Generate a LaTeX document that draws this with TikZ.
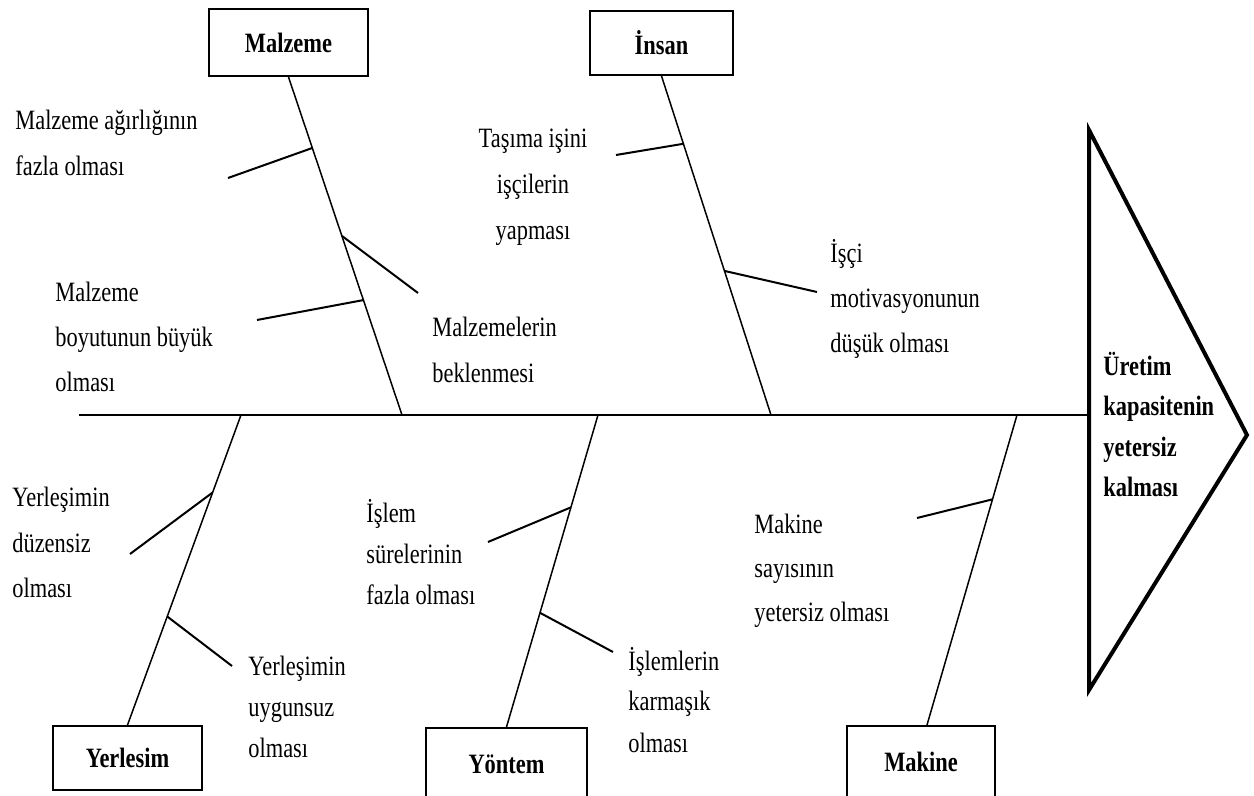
\documentclass[tikz,border=0pt]{standalone}
\usepackage{fontspec}
\setmainfont{Liberation Serif}[FakeStretch=0.8]
\usetikzlibrary{calc}

\begin{document}
\begin{tikzpicture}[
    x=0.5pt, y=-0.5pt,
    cat/.style={draw, line width=1pt, inner sep=0pt, font=\fontsize{14}{17}\selectfont\bfseries},
    lbl/.style={anchor=base west, inner sep=0pt, align=left, font=\fontsize{14}{23}\selectfont},
    lbltight/.style={lbl, font=\fontsize{14}{20.5}\selectfont},
    bone/.style={line width=0.75pt},
    twig/.style={line width=1pt},
    spine/.style={line width=1.2pt}
]
\useasboundingbox (0,0) rectangle (1254,796);

% head of the fish
\draw[line width=2pt] (1089,130) -- (1247,435) -- (1089,690) -- cycle;
\node[lbl, font=\fontsize{14}{20.25}\selectfont\bfseries] (effect) at (1103,497) {Üretim\\kapasitenin\\yetersiz\\kalması};

% spine
\coordinate (tail) at (79,415);
\coordinate (head) at (1089,415);
\draw[spine] (tail) -- (head);

% categories
\node[cat, minimum width=79.5pt, minimum height=33.5pt] (malzeme) at (288.5,42.5) {Malzeme};
\node[cat, minimum width=71.5pt, minimum height=32pt] (insan) at (661.5,43) {İnsan};
\node[cat, minimum width=74.5pt, minimum height=32pt] (yerlesim) at (127.5,758) {Yerlesim};
\node[cat, minimum width=80.5pt, minimum height=36pt] (yontem) at (506.5,764) {Yöntem};
\node[cat, minimum width=74pt, minimum height=36pt] (makine) at (921,762) {Makine};

% bones
\coordinate (jMalzeme) at (402,415);
\coordinate (jInsan) at (771,415);
\coordinate (jYerlesim) at (241,415);
\coordinate (jYontem) at (598,415);
\coordinate (jMakine) at (1017,415);
\draw[bone] (malzeme.south) -- (jMalzeme);
\draw[bone] (insan.south) -- (jInsan);
\draw[bone] (yerlesim.north) -- (jYerlesim);
\draw[bone] (yontem.north) -- (jYontem);
\draw[bone] ([xshift=3pt]makine.north) -- (jMakine);

% twigs
\coordinate (tMalzemeA) at (228,178);
\coordinate (tMalzemeB) at (418,293);
\coordinate (tMalzemeC) at (257,320);
\coordinate (tInsanA) at (616,155);
\coordinate (tInsanB) at (817,292);
\coordinate (tYerlesimA) at (130,554);
\coordinate (tYerlesimB) at (232,666);
\coordinate (tYontemA) at (488,542);
\coordinate (tYontemB) at (613,652);
\coordinate (tMakineA) at (917,518);
\draw[twig] ($(malzeme.south)!0.21!(jMalzeme)$) -- (tMalzemeA);
\draw[twig] ($(malzeme.south)!0.47!(jMalzeme)$) -- (tMalzemeB);
\draw[twig] ($(malzeme.south)!0.66!(jMalzeme)$) -- (tMalzemeC);
\draw[twig] ($(insan.south)!0.2!(jInsan)$) -- (tInsanA);
\draw[twig] ($(insan.south)!0.575!(jInsan)$) -- (tInsanB);
\draw[twig] ($(jYerlesim)!0.25!(yerlesim.north)$) -- (tYerlesimA);
\draw[twig] ($(jYerlesim)!0.65!(yerlesim.north)$) -- (tYerlesimB);
\draw[twig] ($(jYontem)!0.296!(yontem.north)$) -- (tYontemA);
\draw[twig] ($(jYontem)!0.634!(yontem.north)$) -- (tYontemB);
\draw[twig] ($(jMakine)!0.272!([xshift=3pt]makine.north)$) -- (tMakineA);

% causes
\node[lbl] (agirlik) at (15,176) {Malzeme ağırlığının\\fazla olması};
\node[lbl, font=\fontsize{14}{22.5}\selectfont] (boyut) at (55,392) {Malzeme\\boyutunun büyük\\olması};
\node[lbl] (bekleme) at (432,383) {Malzemelerin\\beklenmesi};
\node[lbl, anchor=base, align=center] (tasima) at (533,240) {Taşıma işini\\işçilerin\\yapması};
\node[lbl, font=\fontsize{14}{22.5}\selectfont] (motivasyon) at (830,353) {İşçi\\motivasyonunun\\düşük olması};
\node[lbl] (duzen) at (12,598) {Yerleşimin\\düzensiz\\olması};
\node[lbltight] (uygun) at (248,757) {Yerleşimin\\uygunsuz\\olması};
\node[lbltight] (sure) at (366,605) {İşlem\\sürelerinin\\fazla olması};
\node[lbltight] (karmasik) at (628,752) {İşlemlerin\\karmaşık\\olması};
\node[lbl, font=\fontsize{14}{22}\selectfont] (sayi) at (754,622) {Makine\\sayısının\\yetersiz olması};
\end{tikzpicture}
\end{document}
